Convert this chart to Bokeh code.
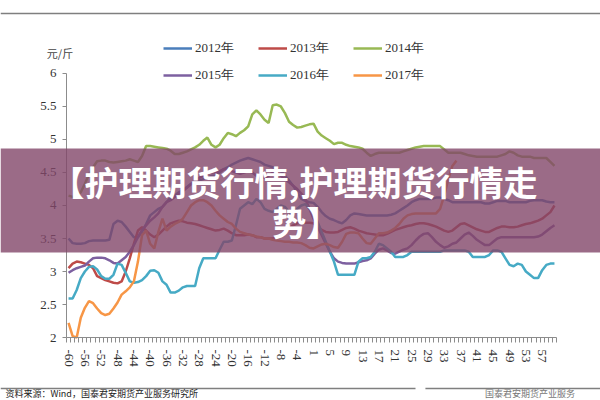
from bokeh.plotting import figure
from bokeh.models import (Range1d, FixedTicker, NumeralTickFormatter, Legend,
                          LegendItem, BoxAnnotation, Label, Span)
from bokeh.embed import file_html
from bokeh.resources import INLINE

# ---------------- data ----------------
weeks = list(range(-60, 0)) + list(range(1, 61))
y_ticks = [2, 2.5, 3, 3.5, 4, 4.5, 5, 5.5, 6]
names = ["2012年", "2013年", "2014年", "2015年", "2016年", "2017年"]
colors = ["#4A7EBB", "#BE4B48", "#98B954", "#7D60A0", "#46AAC5", "#F79646"]

s2012 = [3.5, 3.43, 3.42, 3.42, 3.43, 3.46, 3.47, 3.47, 3.47, 3.47,
         3.48, 3.72, 3.77, 3.75, 3.68, 3.6, 3.52, 3.52, 3.6, 3.72,
         3.85, 3.9, 3.95, 3.98, 4.05, 4.12, 4.15, 4.2, 4.23, 4.28,
         4.33, 4.35, 4.38, 4.4, 4.42, 4.45, 4.45, 4.5, 4.55, 4.58,
         4.62, 4.65, 4.68, 4.7, 4.72, 4.7, 4.68, 4.66, 4.62, 4.6,
         4.58, 4.55, 4.52, 4.45, 4.38, 4.3, 4.2, 4.1, 4.07, 4.05,
         4.04, 3.98, 3.9, 3.84, 3.8, 3.78, 3.75, 3.73, 3.78, 3.85,
         3.88, 3.87, 3.86, 3.85, 3.85, 3.85, 3.85, 3.85, 3.85, 3.86,
         3.88, 3.92, 3.96, 4.0, 4.05, 4.08, 4.1, 4.1, 4.1, 4.1,
         4.12, 4.12, 4.1, 4.08, 4.05, 4.05, 4.05, 4.05, 4.05, 4.05,
         4.05, 4.05, 4.03, 4.03, 4.05, 4.07, 4.07, 4.07, 4.05, 4.05,
         4.05, 4.05, 4.05, 4.07, 4.08, 4.08, 4.08, 4.06, 4.05, 4.05]

s2013 = [3.05, 3.12, 3.15, 3.14, 3.12, 3.1, 3.05, 2.93, 2.9, 2.87,
         2.85, 2.83, 2.82, 2.85, 3.0, 3.2, 3.42, 3.62, 3.67, 3.62,
         3.56, 3.52, 3.56, 3.62, 3.68, 3.73, 3.75, 3.77, 3.76, 3.74,
         3.73, 3.72, 3.7, 3.68, 3.66, 3.64, 3.62, 3.63, 3.65, 3.62,
         3.58, 3.55, 3.55, 3.55, 3.56, 3.55, 3.52, 3.52, 3.5, 3.5,
         3.5, 3.52, 3.55, 3.6, 3.65, 3.7, 3.73, 3.74, 3.74, 3.74,
         3.73, 3.68, 3.63, 3.6, 3.59, 3.59, 3.6, 3.63, 3.66, 3.67,
         3.65, 3.62, 3.6, 3.58, 3.57, 3.56, 3.55, 3.55, 3.57, 3.6,
         3.63, 3.65, 3.67, 3.69, 3.7, 3.72, 3.73, 3.73, 3.72, 3.7,
         3.68, 3.65, 3.62, 3.6, 3.62, 3.67, 3.72, 3.73, 3.7, 3.67,
         3.64, 3.62, 3.6, 3.6, 3.63, 3.66, 3.68, 3.68, 3.67, 3.67,
         3.68, 3.7, 3.72, 3.73, 3.75, 3.77, 3.8, 3.85, 3.9, 4.0]

s2014 = [4.15, 4.13, 4.15, 4.2, 4.33, 4.47, 4.58, 4.67, 4.68, 4.68,
         4.66, 4.65, 4.66, 4.67, 4.68, 4.7, 4.68, 4.66, 4.75, 4.9,
         4.9, 4.89, 4.88, 4.87, 4.86, 4.83, 4.78, 4.78, 4.8, 4.82,
         4.85, 4.88, 4.92, 4.98, 5.03, 4.92, 4.88, 4.92, 5.02, 5.1,
         5.08, 5.05, 5.1, 5.14, 5.2, 5.38, 5.44, 5.38, 5.3, 5.25,
         5.52, 5.53, 5.5, 5.4, 5.27, 5.22, 5.18, 5.19, 5.21, 5.23,
         5.24, 5.12, 5.06, 5.02, 4.98, 4.93, 4.95, 4.95, 4.92, 4.9,
         4.89, 4.88, 4.86, 4.8, 4.75, 4.78, 4.8, 4.8, 4.8, 4.8,
         4.8, 4.8, 4.82, 4.84, 4.86, 4.88, 4.89, 4.9, 4.9, 4.9,
         4.9, 4.9, 4.85, 4.8, 4.8, 4.8, 4.8, 4.78, 4.76, 4.75,
         4.74, 4.74, 4.74, 4.74, 4.74, 4.74, 4.76, 4.78, 4.82, 4.8,
         4.76, 4.74, 4.74, 4.74, 4.72, 4.72, 4.72, 4.72, 4.66, 4.6]

s2015 = [2.98, 3.02, 3.05, 3.07, 3.09, 3.15, 3.2, 3.21, 3.21, 3.2,
         3.17, 3.13, 3.12, 3.17, 3.22, 3.3, 3.4, 3.52, 3.63, 3.7,
         3.77, 3.82, 3.88, 3.98, 4.05, 4.08, 4.13, 4.18, 4.22, 4.27,
         4.32, 4.37, 4.42, 4.45, 4.48, 4.5, 4.5, 4.52, 4.55, 4.55,
         4.52, 4.5, 4.48, 4.5, 4.52, 4.5, 4.45, 4.42, 4.42, 4.45,
         4.5, 4.5, 4.45, 4.4, 4.35, 4.3, 4.25, 4.18, 4.1, 3.95,
         3.8, 3.68, 3.55, 3.42, 3.3, 3.2, 3.15, 3.13, 3.12, 3.12,
         3.12, 3.14, 3.16, 3.17, 3.2, 3.27, 3.33, 3.35, 3.32, 3.28,
         3.27, 3.3, 3.33, 3.35, 3.4, 3.47, 3.53, 3.57, 3.58, 3.52,
         3.45, 3.4, 3.36, 3.38, 3.42, 3.44, 3.5, 3.56, 3.59, 3.54,
         3.48, 3.44, 3.4, 3.4, 3.45, 3.5, 3.52, 3.52, 3.52, 3.52,
         3.52, 3.52, 3.52, 3.52, 3.52, 3.53, 3.56, 3.61, 3.66, 3.7]

s2016 = [2.59, 2.59, 2.72, 2.9, 3.0, 3.07, 3.08, 3.03, 2.93, 2.89,
         2.89, 2.95, 3.12, 3.1, 2.98, 2.85, 2.83, 2.84, 2.87, 2.93,
         3.01, 3.02, 2.98, 2.85, 2.8, 2.68, 2.68, 2.71, 2.76, 2.78,
         2.78, 2.78, 3.05, 3.2, 3.2, 3.2, 3.2, 3.33, 3.45, 3.45,
         3.47, 3.7, 3.95, 4.0, 4.05, 4.02, 4.1, 4.05, 3.95, 3.92,
         3.9, 3.95, 4.0, 3.98, 3.9, 3.88, 3.95, 4.0, 4.02, 3.95,
         3.9, 3.75, 3.6, 3.45, 3.3, 3.15, 2.95, 2.95, 2.95, 2.95,
         2.95, 3.15, 3.2, 3.2, 3.22, 3.3, 3.42, 3.4, 3.35, 3.3,
         3.22, 3.22, 3.22, 3.25, 3.3, 3.3, 3.3, 3.3, 3.3, 3.3,
         3.3, 3.3, 3.32, 3.32, 3.32, 3.32, 3.32, 3.32, 3.3, 3.22,
         3.22, 3.22, 3.22, 3.25, 3.32, 3.32, 3.3, 3.2, 3.1, 3.08,
         3.12, 3.1, 3.0, 2.95, 2.9, 2.9, 3.02, 3.1, 3.12, 3.12]

s2017 = [2.22, 2.02, 2.0, 2.3, 2.45, 2.55, 2.52, 2.44, 2.37, 2.34,
         2.36, 2.44, 2.53, 2.65, 2.7, 2.76, 2.85, 3.15, 3.55, 3.62,
         3.42, 3.35, 3.6, 3.8, 3.62, 3.68, 3.72, 3.75, 3.8, 3.9,
         4.0, 4.05, 4.08, 4.08, 4.05, 4.0, 3.92, 3.85, 3.8, 3.75,
         3.72, 3.65, 3.6, 3.58, 3.56, 3.55, 3.53, 3.52, 3.5, 3.5,
         3.48, 3.47, 3.46, 3.45, 3.45, 3.44, 3.44, 3.43, 3.4, 3.36,
         3.35, 3.38, 3.41, 3.42, 3.4, 3.37, 3.36, 3.45, 3.57, 3.59,
         3.59, 3.58, 3.5, 3.43, 3.42, 3.5, 3.58, 3.58, 3.59, 3.62,
         3.66, 3.72, 3.8, 3.85, 3.87, 3.88, 3.88, 3.88, 3.88, 3.88,
         3.88, 3.95, 4.15, 4.4, 4.6, 4.68]

series = [s2012, s2013, s2014, s2015, s2016, s2017]
banner_lines = ["【护理期货行情,护理期货行情走", "势】"]
unit_text = "元/斤"
source_text = "资料来源：Wind，国泰君安期货产业服务研究所"
mark_text = "国泰君安期货产业服务"

# ---------------- figure ----------------
pos = list(range(len(weeks)))
p = figure(width=600, height=400, output_backend="svg", toolbar_location=None,
           x_range=Range1d(-16.663, 130.276), y_range=Range1d(1.0455, 7.106),
           min_border=0, min_border_left=0, min_border_right=0,
           min_border_top=0, min_border_bottom=0)
p.outline_line_color = None
p.xgrid.visible = False
p.ygrid.visible = False
p.background_fill_color = "white"
p.border_fill_color = "white"

axis_col = "#8c8c8c"
yax = p.yaxis[0]
yax.fixed_location = -0.5
yax.bounds = (2, 6)
yax.ticker = FixedTicker(ticks=y_ticks)
yax.formatter = NumeralTickFormatter(format="0.[0]")
yax.axis_line_color = axis_col
yax.major_tick_line_color = axis_col
yax.major_tick_out = 4
yax.major_tick_in = 0
yax.minor_tick_line_color = None
yax.major_label_text_font = "Liberation Serif"
yax.major_label_text_font_size = "13px"
yax.major_label_text_color = "#333333"
yax.major_label_standoff = 6

xax = p.xaxis[0]
xax.fixed_location = 2
xax.bounds = (-0.5, len(weeks) - 0.5)
xax.ticker = FixedTicker(ticks=list(range(0, len(weeks), 4)),
                         minor_ticks=[k - 0.5 for k in range(len(weeks) + 1)])
xax.major_label_overrides = {i: str(weeks[i]) for i in range(0, len(weeks), 4)}
xax.axis_line_color = axis_col
xax.major_tick_line_color = None
xax.major_tick_out = 0
xax.major_tick_in = 0
xax.minor_tick_line_color = axis_col
xax.minor_tick_out = 5
xax.minor_tick_in = 0
xax.major_label_orientation = "vertical"
xax.major_label_text_font = "Liberation Serif"
xax.major_label_text_font_size = "13px"
xax.major_label_text_color = "#333333"
xax.major_label_standoff = 7

renderers = []
for vals, col in zip(series, colors):
    r = p.line(pos[:len(vals)], vals, line_color=col, line_width=2.5)
    renderers.append(r)

legend = Legend(items=[LegendItem(label=n, renderers=[r]) for n, r in zip(names, renderers)],
                location=(163, 315), orientation="horizontal", ncols=3,
                spacing=7, glyph_width=29, glyph_height=20, label_height=20,
                label_width=56, label_standoff=3, padding=0, margin=0,
                border_line_color=None, background_fill_alpha=0,
                label_text_font="Liberation Serif", label_text_font_size="13px",
                label_text_color="#333333")
p.add_layout(legend)

p.add_layout(Label(x=-2.09, y=6.318, text=unit_text, text_align="center",
                   text_baseline="middle", text_font="Noto Sans CJK SC",
                   text_font_size="11px", text_color="#444444"))

# separators and footer
p.add_layout(Span(location=6.909, dimension="width", line_color="#7f7f7f", line_width=1.5))
p.line([-16.663, 84.97], [1.227, 1.227], line_color="#7f7f7f", line_width=1.5)
p.line([87.4, 130.276], [1.227, 1.227], line_color="#7f7f7f", line_width=1.5)
p.add_layout(Label(x=-15.44, y=1.152, text=source_text, text_align="left",
                   text_baseline="middle", text_font="Noto Sans CJK SC",
                   text_font_size="9px", text_color="#222222"))
p.add_layout(Label(x=102.0, y=1.152, text=mark_text, text_align="left",
                   text_baseline="middle", text_font="Noto Sans CJK SC",
                   text_font_size="9px", text_color="#777777"))

# overlay banner
p.add_layout(BoxAnnotation(bottom=3.288, top=4.864, fill_color="#824669",
                           fill_alpha=0.8, line_color=None))
for txt, xx, yy in zip(banner_lines, [55.2, 58.2], [4.364, 3.758]):
    p.add_layout(Label(x=xx, y=yy, text=txt, text_align="center",
                       text_baseline="middle", text_font="Noto Sans CJK SC",
                       text_font_size="34px", text_font_style="bold",
                       text_color="white"))

open("out.html", "w").write(file_html(p, INLINE))
